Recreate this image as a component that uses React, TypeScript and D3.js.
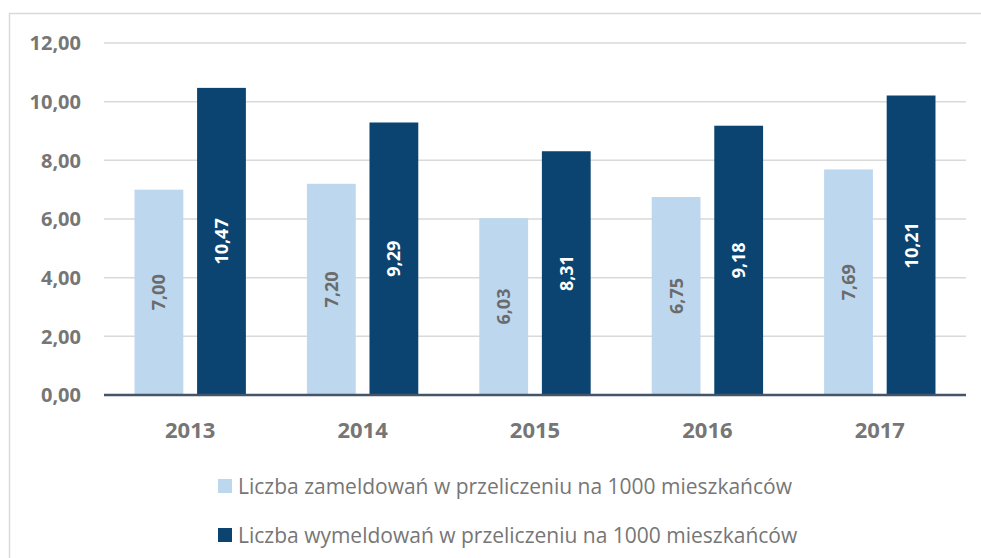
import React from "react";
import * as d3 from "d3";

const categories = ["2013", "2014", "2015", "2016", "2017"];
const seriesNames = [
  "Liczba zameldowań w przeliczeniu na 1000 mieszkańców",
  "Liczba wymeldowań w przeliczeniu na 1000 mieszkańców",
];
const zameldowania = [7.0, 7.2, 6.03, 6.75, 7.69];
const wymeldowania = [10.47, 9.29, 8.31, 9.18, 10.21];
const yTicks = [0, 2, 4, 6, 8, 10, 12];

const COLORS = ["#BDD7EE", "#0B4470"];
const LABEL_COLORS = ["#6B6B6B", "#FFFFFF"];
const TEXT = "#767676";
const FONT = "'Open Sans', 'Liberation Sans', sans-serif";

const fmt = (v: number) => v.toFixed(2).replace(".", ",");

export default function App() {
  const W = 981;
  const H = 558;
  const left = 104;
  const right = 966;
  const y = d3.scaleLinear().domain([0, 12]).range([395, 43]);
  const x0 = d3.scaleBand<string>().domain(categories).range([left, right]).paddingInner(0.354).paddingOuter(0.177);
  const x1 = d3.scaleBand<number>().domain([0, 1]).range([0, x0.bandwidth()]).paddingInner(0.22);
  const series = [zameldowania, wymeldowania];

  return (
    <svg width={W} height={H} style={{ position: "absolute", left: 0, top: 0, background: "#fff" }}>
      <rect x={9.5} y={13.5} width={W + 10} height={H + 10} fill="#fff" stroke="#D9D9D9" strokeWidth={1.5} />
      {yTicks.map((t) => (
        <g key={t}>
          {t > 0 && <line x1={left} x2={right} y1={y(t)} y2={y(t)} stroke="#D9D9D9" strokeWidth={1.5} />}
          <text x={81} y={y(t)} dy="0.36em" textAnchor="end" fontFamily={FONT} fontWeight="bold" fontSize={20} fill={TEXT}>
            {fmt(t)}
          </text>
        </g>
      ))}
      {categories.map((c, i) => (
        <g key={c} transform={`translate(${x0(c)},0)`}>
          {series.map((s, k) => {
            const bx = x1(k)!;
            const bw = x1.bandwidth();
            const top = y(s[i]);
            const cx = bx + bw / 2;
            const cy = (top + y(0)) / 2;
            return (
              <g key={k}>
                <rect x={bx} y={top} width={bw} height={y(0) - top} fill={COLORS[k]} />
                <text
                  transform={`translate(${cx},${cy}) rotate(-90)`}
                  textAnchor="middle"
                  dy="0.36em"
                  fontFamily={FONT}
                  fontWeight="bold"
                  fontSize={18}
                  fill={LABEL_COLORS[k]}
                >
                  {fmt(s[i])}
                </text>
              </g>
            );
          })}
          <text x={x0.bandwidth() / 2} y={438} textAnchor="middle" fontFamily={FONT} fontWeight="bold" fontSize={22} fill={TEXT}>
            {c}
          </text>
        </g>
      ))}
      <line x1={left} x2={right} y1={y(0)} y2={y(0)} stroke="#44546A" strokeWidth={2.5} />
      {seriesNames.map((n, k) => (
        <g key={n} transform={`translate(218,${479 + k * 49})`}>
          <rect x={0} y={0} width={14} height={14} fill={COLORS[k]} />
          <text x={20} y={15} fontFamily={FONT} fontSize={21} fill={TEXT}>
            {n}
          </text>
        </g>
      ))}
    </svg>
  );
}
